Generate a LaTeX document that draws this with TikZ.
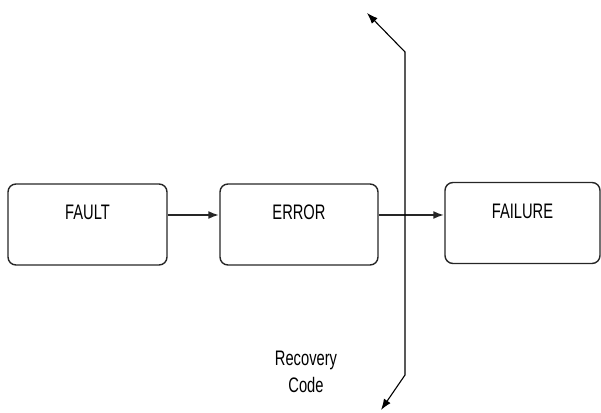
\documentclass[tikz,border=0pt]{standalone}
\usepackage{fontspec}
\newfontfamily\boxfont[FakeStretch=0.7]{Liberation Sans}
\usepackage{tikz}
\usetikzlibrary{arrows.meta, positioning}
\tikzset{
	font = {\boxfont\fontsize{21pt}{27pt}\selectfont},
	stage/.style = {rectangle, draw = black!85, line width = 1.4pt, rounded corners = 8pt, inner sep = 0pt, text height = 36pt, text depth = 45pt, minimum height = 81pt, text centered},
	arrow/.style = {-{Latex[length = 11pt, width = 8pt]}, draw = black!85, line width = 2pt},
	recovery/.style = {{Latex[length = 11pt, width = 8pt]}-{Latex[length = 11pt, width = 8pt]}, draw = black, line width = 1.1pt}
}

\begin{document}
\begin{tikzpicture}[x = 1pt, y = 1pt]
	\useasboundingbox (0,0) rectangle (601,412);
	
	%%%%%%%% stages %%%%%%%%
	\node (fault) [stage, minimum width = 159pt] at (87.5,187.5) {FAULT};
	\node (error) [stage, minimum width = 158pt] at (299,187.5) {ERROR};
	\node (failure) [stage, minimum width = 155pt] at (522.5,189) {FAILURE};
	
	%%% arrows %%%
	\draw [arrow] ([yshift = 9.5pt]fault.east) -- ([yshift = 9.5pt]error.west);
	\draw [arrow] ([yshift = 9.5pt]error.east) -- ([yshift = 8pt]failure.west);
	
	%% recovery line
	\coordinate (rtop) at (367,399);
	\coordinate (rbendtop) at (405,360);
	\coordinate (rbendbot) at (405,37);
	\coordinate (rbot) at (381,2);
	\draw [recovery] (rtop) -- (rbendtop) -- (rbendbot) -- (rbot);
	\node (rcode) [align = center] at (306,40.5) {Recovery\\Code};
	
\end{tikzpicture}
\end{document}
